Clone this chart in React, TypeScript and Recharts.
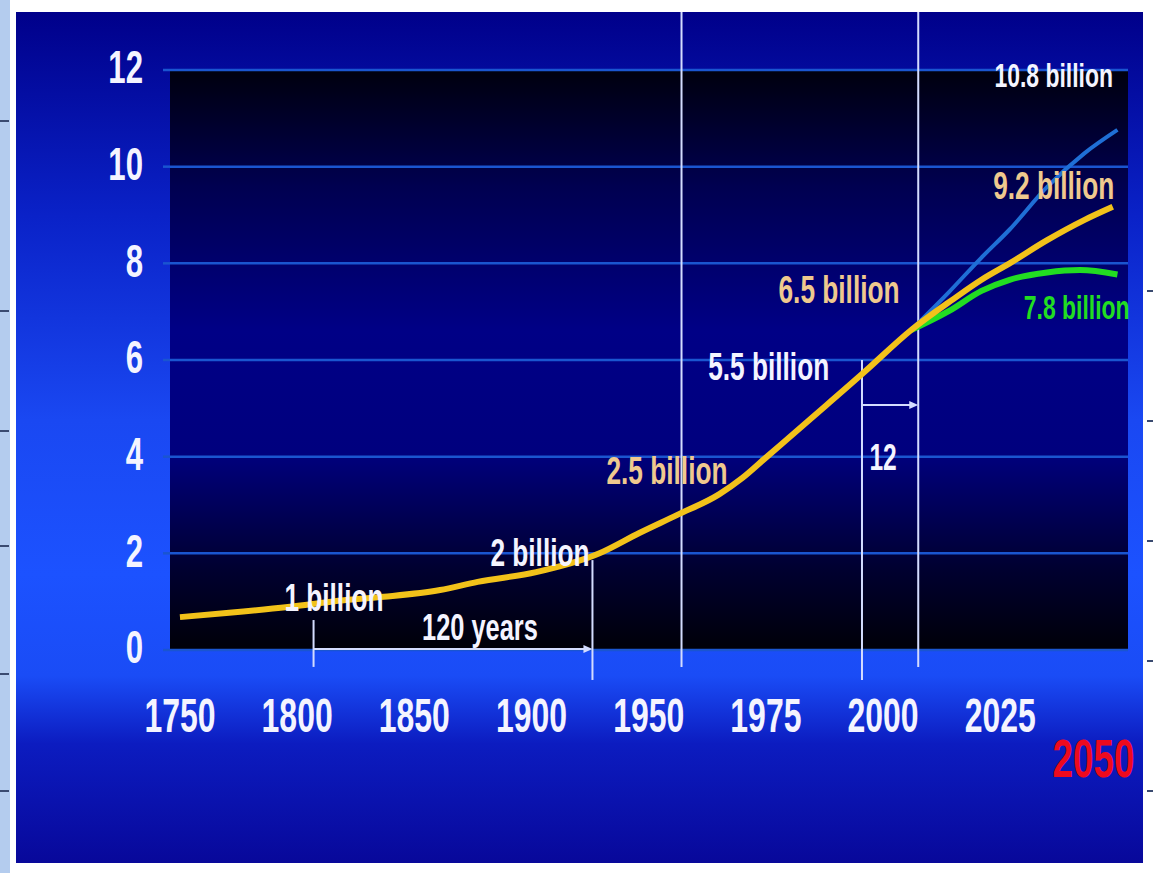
import { LineChart, Line, XAxis, YAxis, CartesianGrid, ReferenceLine, ReferenceDot } from 'recharts'

const FONT = "'Liberation Sans', Arial, sans-serif"

// axis labels (the slide's year axis is not linear: 50-year steps up to 1950, 25-year steps after)
const tickYears = [1750, 1800, 1850, 1900, 1950, 1975, 2000, 2025, 2050]
const yTicks = [0, 2, 4, 6, 8, 10, 12]

// world population, billions (years)
const worldYears = [1750, 1771, 1796, 1820, 1837, 1861, 1877, 1902, 1929, 1946, 1956, 1965, 1970, 1975, 1985, 1996, 2006, 2015, 2021, 2027, 2035, 2043, 2049]
const worldPop = [0.68, 0.77, 0.89, 1.03, 1.1, 1.24, 1.41, 1.61, 2.0, 2.42, 2.79, 3.22, 3.56, 3.98, 4.82, 5.75, 6.62, 7.26, 7.66, 8.0, 8.48, 8.9, 9.17]

// projections
const highYears = [2006, 2014, 2021, 2027, 2035, 2043, 2050]
const highPop = [6.62, 7.4, 8.12, 8.7, 9.58, 10.28, 10.76]
const lowYears = [2006, 2014, 2021, 2027, 2035, 2042, 2050]
const lowPop = [6.62, 7.01, 7.43, 7.66, 7.81, 7.86, 7.77]

// vertical marker lines: year, top value, bottom value
const markerYears = [1807, 1926, 1957, 1995.5, 2007.5]
const markerTop = [0.62, 1.86, 13.2, 6.0, 13.2]
const markerBottom = [-0.35, -0.62, -0.35, -0.62, -0.35]

const WHITE = '#f4f4ff'
const TAN = '#efc98e'
const GREEN = '#22dd22'

const notes = [
  { text: '1 billion', year: 1815.7, value: 1.08, color: WHITE, size: 32 },
  { text: '2 billion', year: 1903.6, value: 2.01, color: WHITE, size: 32 },
  { text: '120 years', year: 1878, value: 0.48, color: WHITE, size: 31 },
  { text: '2.5 billion', year: 1953.9, value: 3.72, color: TAN, size: 32 },
  { text: '5.5 billion', year: 1975.6, value: 5.86, color: WHITE, size: 32 },
  { text: '6.5 billion', year: 1990.6, value: 7.45, color: TAN, size: 32 },
  { text: '12', year: 2000, value: 3.97, color: WHITE, size: 30 },
  { text: '10.8 billion', year: 2036.4, value: 11.9, color: WHITE, size: 28 },
  { text: '9.2 billion', year: 2036.4, value: 9.6, color: TAN, size: 32 },
  { text: '7.8 billion', year: 2041.3, value: 7.08, color: GREEN, size: 28 },
]

const slot = (year: number) => (year <= 1950 ? (year - 1750) / 50 : 4 + (year - 1950) / 25)
const rows = (years: number[], vals: number[]) => years.map((y, i) => ({ x: slot(y), v: vals[i] }))

const minorTicks = Array.from({ length: 41 }, (_, i) => i / 5)

// bold narrow lettering, stretched a little vertically like the photographed slide
function Tall({ x, y, children, size, fill, anchor = 'middle', sy = 1.2 }: any) {
  return (
    <text
      transform={`translate(${x},${y}) scale(0.82,${sy})`}
      textAnchor={anchor}
      dominantBaseline="central"
      fontSize={size}
      fontWeight={700}
      fontFamily={FONT}
      fill={fill}
    >
      {children}
    </text>
  )
}

function XTick({ x, y, payload }: any) {
  const i = tickYears.map(slot).findIndex((t) => Math.abs(t - payload.value) < 1e-6)
  const label = tickYears[i]
  if (label === 2050)
    return <Tall x={x - 24} y={y + 108} size={45} fill="#ee0a1e">{label}</Tall>
  return <Tall x={x} y={y + 66} size={39} fill={WHITE} sy={1.23}>{label}</Tall>
}

function YTick({ x, y, payload }: any) {
  return <Tall x={x - 20} y={y - 3} size={38} fill={WHITE} anchor="end" sy={1.22}>{payload.value}</Tall>
}

function Arrow({ x1, y1, x2, y2 }: any) {
  return (
    <g>
      <line x1={x1} y1={y1} x2={x2 - 6} y2={y2} stroke="#d4dcff" strokeWidth={2} />
      <polygon points={`${x2},${y2} ${x2 - 9},${y2 - 4} ${x2 - 9},${y2 + 4}`} fill="#d4dcff" />
    </g>
  )
}

export default function App() {
  return (
    <div style={{ position: 'absolute', left: 0, top: 0, width: 1153, height: 873, background: '#ffffff', overflow: 'hidden' }}>
      <div style={{ position: 'absolute', left: 0, top: 0, width: 10, height: 873, background: '#b4ccee' }} />
      {[120, 310, 430, 545, 673, 790].map((t) => (
        <div key={t} style={{ position: 'absolute', left: 0, top: t, width: 9, height: 2, background: '#3a4a70' }} />
      ))}
      {[290, 420, 540, 660, 790].map((t) => (
        <div key={t} style={{ position: 'absolute', left: 1147, top: t, width: 6, height: 2, background: '#3a4a70' }} />
      ))}
      <div
        style={{
          position: 'absolute',
          left: 16,
          top: 12,
          width: 1127,
          height: 851,
          background:
            'linear-gradient(to bottom, #00008a 0%, #0a22c8 24%, #1a48f2 48%, #1c52ff 66%, #1a4cf6 78%, #0c1cc0 86%, #08089a 100%)',
        }}
      />
      <div style={{ position: 'absolute', left: 0, top: 0 }}>
        <LineChart width={1153} height={873} margin={{ top: 70, right: 25, bottom: 123, left: 20 }}>
          <defs>
            <linearGradient id="plotBg" x1="0" y1="0" x2="0" y2="1">
              <stop offset="0%" stopColor="#00000e" />
              <stop offset="20%" stopColor="#000050" />
              <stop offset="45%" stopColor="#000086" />
              <stop offset="66%" stopColor="#00007e" />
              <stop offset="86%" stopColor="#000030" />
              <stop offset="100%" stopColor="#000008" />
            </linearGradient>
          </defs>
          <CartesianGrid vertical={false} fill="url(#plotBg)" fillOpacity={1} stroke="#1a55d0" strokeWidth={2.5} />
          <XAxis
            xAxisId="minor"
            type="number"
            dataKey="x"
            domain={[-0.085, 8.09]}
            allowDataOverflow
            ticks={minorTicks}
            height={0}
            tick={false}
            axisLine={false}
            tickSize={38}
            tickLine={{ stroke: 'rgba(175,205,255,0.32)', strokeWidth: 1.5 }}
          />
          <XAxis
            type="number"
            dataKey="x"
            domain={[-0.085, 8.09]}
            allowDataOverflow
            ticks={tickYears.map(slot)}
            interval={0}
            height={100}
            axisLine={false}
            tickLine={false}
            tickSize={0}
            tickMargin={0}
            tick={<XTick />}
          />
          <YAxis
            type="number"
            domain={[0, 12]}
            ticks={yTicks}
            interval={0}
            width={150}
            axisLine={false}
            tickSize={7}
            tickMargin={0}
            tickLine={{ stroke: '#1a55d0', strokeWidth: 2.5 }}
            tick={<YTick />}
          />
          {markerYears.map((yr, i) => (
            <ReferenceLine
              key={yr}
              segment={[{ x: slot(yr), y: markerTop[i] }, { x: slot(yr), y: markerBottom[i] }]}
              ifOverflow="visible"
              stroke="#d4dcff"
              strokeWidth={2}
            />
          ))}
          <ReferenceLine
            segment={[{ x: slot(markerYears[0]), y: 0.02 }, { x: slot(markerYears[1]), y: 0.02 }]}
            ifOverflow="visible"
            shape={<Arrow />}
          />
          <ReferenceLine
            segment={[{ x: slot(markerYears[3]), y: 5.07 }, { x: slot(markerYears[4]), y: 5.07 }]}
            ifOverflow="visible"
            shape={<Arrow />}
          />
          <Line data={rows(highYears, highPop)} dataKey="v" type="monotone" stroke="#1f6fd6" strokeWidth={4} dot={false} isAnimationActive={false} />
          <Line data={rows(lowYears, lowPop)} dataKey="v" type="monotone" stroke={GREEN} strokeWidth={6} dot={false} isAnimationActive={false} />
          <Line data={rows(worldYears, worldPop)} dataKey="v" type="monotone" stroke="#f2c21a" strokeWidth={6} dot={false} isAnimationActive={false} />
          {notes.map((n) => (
            <ReferenceDot
              key={n.text}
              x={slot(n.year)}
              y={n.value}
              ifOverflow="visible"
              shape={(p: any) => <Tall x={p.cx} y={p.cy} size={n.size} fill={n.color}>{n.text}</Tall>}
            />
          ))}
        </LineChart>
      </div>
    </div>
  )
}
